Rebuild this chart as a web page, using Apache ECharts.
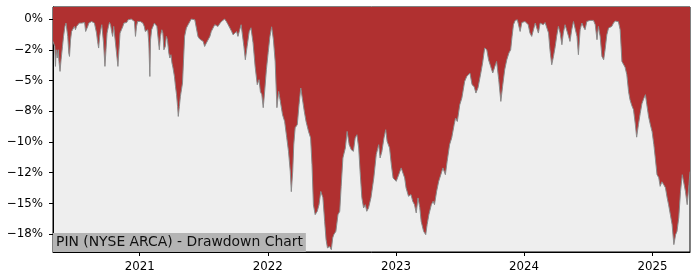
<!DOCTYPE html>
<html>
<head>
<meta charset="utf-8">
<script src="https://cdn.jsdelivr.net/npm/echarts@6.0.0/dist/echarts.min.js"></script>
<style>
html,body{margin:0;padding:0;background:#fff;}
#chart{width:700px;height:280px;}
</style>
</head>
<body>
<div id="chart"></div>
<script>
const titleText = 'PIN (NYSE ARCA) - Drawdown Chart';
const yearTicks = ['2021-01-01','2022-01-01','2023-01-01','2024-01-01','2025-01-01'];
const yTickVals = [0, -2.5, -5, -7.5, -10, -12.5, -15, -17.5];
const yTickLabels = ['0%','\u22122%','\u22125%','\u22128%','\u221210%','\u221212%','\u221215%','\u221218%'];

const dates = [
'2020-04-29','2020-05-04','2020-05-06','2020-05-08','2020-05-11','2020-05-14','2020-05-16','2020-05-19','2020-05-22','2020-05-26',
'2020-05-29','2020-06-02','2020-06-05','2020-06-08','2020-06-10','2020-06-13','2020-06-15','2020-06-18','2020-06-21','2020-06-25',
'2020-06-29','2020-07-02','2020-07-05','2020-07-09','2020-07-13','2020-07-17','2020-07-20','2020-07-24','2020-07-28','2020-07-31',
'2020-08-03','2020-08-06','2020-08-09','2020-08-13','2020-08-17','2020-08-21','2020-08-25','2020-08-28','2020-08-31','2020-09-03',
'2020-09-06','2020-09-09','2020-09-12','2020-09-15','2020-09-17','2020-09-20','2020-09-24','2020-09-27','2020-09-30','2020-10-04',
'2020-10-07','2020-10-10','2020-10-13','2020-10-16','2020-10-19','2020-10-23','2020-10-27','2020-10-31','2020-11-03','2020-11-06',
'2020-11-10','2020-11-14','2020-11-17','2020-11-21','2020-11-25','2020-11-29','2020-12-03','2020-12-08','2020-12-13','2020-12-17',
'2020-12-20','2020-12-23','2020-12-26','2020-12-30',
'2021-01-03','2021-01-07','2021-01-10','2021-01-14','2021-01-17','2021-01-20','2021-01-24','2021-01-27','2021-01-30','2021-02-01',
'2021-02-04','2021-02-08','2021-02-12','2021-02-16','2021-02-19','2021-02-23','2021-02-26','2021-03-01','2021-03-05','2021-03-08',
'2021-03-11','2021-03-15','2021-03-18','2021-03-21','2021-03-25','2021-03-28','2021-03-31','2021-04-03','2021-04-06','2021-04-10',
'2021-04-13','2021-04-16','2021-04-19','2021-04-21','2021-04-24','2021-04-27','2021-04-30','2021-05-03','2021-05-06','2021-05-09',
'2021-05-14','2021-05-19','2021-05-24','2021-05-28','2021-06-02','2021-06-07','2021-06-12','2021-06-16','2021-06-21','2021-06-26',
'2021-07-01','2021-07-05','2021-07-10','2021-07-15','2021-07-20','2021-07-24','2021-07-29','2021-08-03','2021-08-08','2021-08-12',
'2021-08-17','2021-08-22','2021-08-27','2021-08-31','2021-09-05','2021-09-10','2021-09-15','2021-09-20','2021-09-24','2021-09-29',
'2021-10-04','2021-10-08','2021-10-13','2021-10-17','2021-10-19','2021-10-25','2021-10-29','2021-11-03','2021-11-09','2021-11-14',
'2021-11-20','2021-11-26','2021-12-02','2021-12-07','2021-12-11','2021-12-15','2021-12-19','2021-12-23','2021-12-28',
'2022-01-02','2022-01-07','2022-01-12','2022-01-14','2022-01-17','2022-01-22','2022-01-27','2022-02-01','2022-02-05','2022-02-12',
'2022-02-18','2022-02-24','2022-03-01','2022-03-06','2022-03-09','2022-03-13','2022-03-16','2022-03-20','2022-03-26','2022-03-31',
'2022-04-05','2022-04-10','2022-04-15','2022-04-20','2022-04-27','2022-05-03','2022-05-07','2022-05-11','2022-05-16','2022-05-22',
'2022-05-27','2022-06-01','2022-06-07','2022-06-12','2022-06-16','2022-06-20','2022-06-26','2022-07-01','2022-07-05','2022-07-08',
'2022-07-14','2022-07-20','2022-07-25','2022-07-29','2022-08-03','2022-08-10','2022-08-15','2022-08-21','2022-08-27','2022-09-02',
'2022-09-07','2022-09-12','2022-09-17','2022-09-21','2022-09-26','2022-10-01','2022-10-06','2022-10-10','2022-10-15','2022-10-22',
'2022-10-30','2022-11-06','2022-11-13','2022-11-17','2022-11-22','2022-11-28','2022-12-03','2022-12-07','2022-12-14','2022-12-19',
'2022-12-24',
'2023-01-02','2023-01-09','2023-01-16','2023-01-21','2023-01-26','2023-01-30','2023-02-06','2023-02-13','2023-02-18','2023-02-23',
'2023-02-28','2023-03-05','2023-03-10','2023-03-14','2023-03-21','2023-03-27','2023-03-31','2023-04-05','2023-04-12','2023-04-17',
'2023-04-21','2023-04-27','2023-05-03','2023-05-09','2023-05-15','2023-05-22','2023-05-27','2023-06-03','2023-06-09','2023-06-16',
'2023-06-20','2023-06-25','2023-07-02','2023-07-08','2023-07-16','2023-07-22','2023-07-27','2023-07-31','2023-08-06','2023-08-12',
'2023-08-17','2023-08-23','2023-08-31','2023-09-05','2023-09-11','2023-09-17','2023-09-22','2023-09-28','2023-10-04','2023-10-10',
'2023-10-15','2023-10-21','2023-10-27','2023-11-01','2023-11-07','2023-11-13','2023-11-19','2023-11-24','2023-11-28','2023-12-02',
'2023-12-07','2023-12-13','2023-12-18','2023-12-21','2023-12-26','2023-12-30',
'2024-01-04','2024-01-09','2024-01-13','2024-01-18','2024-01-23','2024-01-28','2024-02-02','2024-02-06','2024-02-11','2024-02-16',
'2024-02-21','2024-02-25','2024-03-01','2024-03-06','2024-03-11','2024-03-15','2024-03-20','2024-03-25','2024-03-30','2024-04-03',
'2024-04-08','2024-04-13','2024-04-18','2024-04-22','2024-04-27','2024-05-02','2024-05-07','2024-05-11','2024-05-16','2024-05-21',
'2024-05-26','2024-05-31','2024-06-04','2024-06-09','2024-06-14','2024-06-18','2024-06-23','2024-06-28','2024-07-03','2024-07-07',
'2024-07-12','2024-07-17','2024-07-22','2024-07-27','2024-07-31','2024-08-05','2024-08-10','2024-08-15','2024-08-19','2024-08-24',
'2024-08-29','2024-09-03','2024-09-07','2024-09-12','2024-09-17','2024-09-22','2024-09-26','2024-10-01','2024-10-06','2024-10-11',
'2024-10-15','2024-10-20','2024-10-25','2024-10-29','2024-11-03','2024-11-08','2024-11-13','2024-11-17','2024-11-22','2024-11-27',
'2024-12-02','2024-12-07','2024-12-12','2024-12-16','2024-12-21','2024-12-26','2024-12-31',
'2025-01-05','2025-01-09','2025-01-14','2025-01-19','2025-01-23','2025-01-28','2025-02-02','2025-02-07','2025-02-12','2025-02-16',
'2025-02-21','2025-02-26','2025-03-03','2025-03-08','2025-03-12','2025-03-17','2025-03-22','2025-03-27','2025-04-01','2025-04-05',
'2025-04-10','2025-04-15','2025-04-18'
];

const drawdown = [
-1.82,-2.23,-3.85,-2.50,-3.17,-2.50,-3.45,-4.26,-3.31,-2.23,
-1.41,-0.60,-0.33,-0.28,-1.41,-2.76,-3.04,-1.68,-1.01,-0.87,
-0.60,-0.87,-0.60,-0.73,-0.33,-0.20,-0.33,-0.46,-0.28,-1.01,
-1.14,-0.60,-0.33,-0.28,-0.20,-0.11,-0.33,-0.20,-1.14,-1.82,
-2.36,-1.41,-0.87,-0.46,-0.60,-1.95,-3.85,-2.50,-1.14,-0.60,
-0.28,-0.46,-1.01,-1.41,-0.60,-1.68,-2.76,-3.85,-2.50,-1.14,
-0.87,-0.60,-0.33,-0.22,-0.28,-0.06,0,0,-0.06,-0.20,
-1.41,-0.60,-0.20,-0.11,
-0.20,-0.28,-0.33,-0.60,-1.01,-0.87,-0.87,-1.95,-4.67,-1.68,
-0.87,-0.60,-0.33,-0.28,-0.60,-1.68,-2.50,-1.41,-0.87,-1.14,
-2.50,-2.23,-1.41,-1.68,-2.76,-3.17,-2.90,-3.58,-3.98,-4.67,
-5.48,-6.15,-7.11,-7.92,-7.11,-6.29,-5.75,-5.20,-3.31,-1.41,
-0.73,-0.46,-0.20,0,0,-0.06,-0.20,-1.41,-1.63,-1.68,
-1.82,-2.23,-1.95,-1.82,-1.41,-1.01,-0.73,-0.46,-0.38,-0.60,
-0.38,-0.20,-0.06,0,-0.20,-0.46,-0.73,-1.01,-1.28,-1.14,
-1.01,-1.41,-0.87,-0.46,-0.46,-2.25,-3.31,-2.25,-1.03,-0.71,
-1.93,-3.88,-5.34,-4.93,-5.91,-6.15,-7.21,-5.91,-4.12,
-2.74,-1.44,-0.63,-0.71,-1.68,-3.45,-7.21,-5.89,-6.56,-7.78,
-8.33,-9.65,-10.76,-12.39,-14.04,-12.39,-10.22,-8.84,-8.59,-6.97,
-5.61,-5.75,-7.51,-8.33,-9.14,-9.67,-11.85,-15.10,-15.91,-15.64,
-15.10,-14.02,-14.53,-16.46,-17.94,-18.62,-18.49,-18.76,-17.80,-17.54,
-17.27,-15.91,-15.64,-13.63,-11.30,-10.49,-9.14,-10.22,-10.63,-10.76,
-9.67,-9.41,-10.49,-12.39,-14.53,-15.37,-15.10,-15.64,-15.37,-14.53,
-12.93,-11.03,-10.22,-11.30,-10.79,-9.67,-9.00,-9.95,-10.49,-11.85,
-12.93,
-13.20,-12.66,-12.11,-11.98,-12.93,-13.74,-14.42,-14.28,-14.83,-15.10,
-15.77,-14.55,-15.34,-16.46,-17.27,-17.54,-16.72,-15.91,-15.10,-14.83,
-15.10,-14.02,-13.20,-12.66,-12.11,-12.66,-11.58,-10.22,-9.67,-8.59,
-8.05,-8.33,-6.97,-6.42,-5.07,-4.67,-4.53,-4.39,-5.34,-5.50,
-6.02,-5.59,-4.39,-3.58,-2.36,-2.50,-3.31,-3.85,-4.39,-3.85,
-3.45,-4.93,-6.70,-5.48,-4.12,-3.31,-2.76,-2.50,-1.41,-0.46,
-0.11,-0.06,-0.11,-1.01,-0.28,-0.33,
-0.20,-0.33,-0.46,-1.14,-1.41,-0.87,-0.33,-0.20,-1.14,-0.33,
-0.28,-0.46,-0.28,-0.20,-1.14,-2.50,-3.72,-3.04,-2.23,-1.41,
-0.60,-1.14,-2.09,-1.14,-0.46,-0.38,-1.41,-1.82,-0.87,-0.20,
-0.33,-1.41,-2.90,-0.87,-0.33,-0.60,-0.87,-0.20,-0.14,-0.11,
-0.20,-0.11,-0.46,-1.68,-0.60,-1.41,-3.04,-3.31,-2.50,-1.28,
-0.73,-0.87,-0.60,-0.33,-0.16,-0.11,-0.22,-0.87,-3.45,-3.58,
-3.92,-4.53,-5.91,-6.56,-7.03,-7.37,-8.51,-9.61,-8.59,-7.70,
-6.89,-6.48,-6.15,-6.97,-7.94,-8.59,-9.16,
-10.22,-11.28,-12.66,-12.90,-13.61,-13.24,-13.47,-13.72,-14.55,-15.10,
-15.91,-16.72,-18.35,-17.54,-17.27,-16.15,-14.02,-12.66,-12.74,-14.02,
-15.10,-13.47,-12.41
];

const chart = echarts.init(document.getElementById('chart'), null, {renderer: 'canvas'});
const toTime = s => echarts.time.parse(s).getTime();
const seriesData = dates.map((d, i) => [toTime(d), drawdown[i]]);
const yearTickTimes = yearTicks.map(toTime);
const font = 'DejaVu Sans';

chart.setOption({
  animation: false,
  backgroundColor: '#ffffff',
  grid: {
    left: 53, right: 10, top: 7, bottom: 28,
    show: true,
    backgroundColor: '#eeeeee',
    borderColor: '#000000',
    borderWidth: 1
  },
  xAxis: {
    type: 'value',
    min: 'dataMin',
    max: 'dataMax',
    axisLine: {show: true, onZero: false, lineStyle: {color: '#000', width: 1}},
    axisTick: {show: true, length: 4, lineStyle: {color: '#000'}, customValues: yearTickTimes},
    axisLabel: {
      show: true, customValues: yearTickTimes, margin: 9,
      color: '#000', fontFamily: font, fontSize: 11.8,
      formatter: v => String(new Date(v).getFullYear())
    },
    splitLine: {show: false}
  },
  yAxis: {
    type: 'value',
    min: -18.95,
    max: 0.98,
    axisLine: {show: true, onZero: false, lineStyle: {color: '#000', width: 1}},
    axisTick: {show: true, length: 4, lineStyle: {color: '#000'}, customValues: yTickVals},
    axisLabel: {
      show: true, customValues: yTickVals, margin: 10,
      color: '#000', fontFamily: font, fontSize: 11.8,
      formatter: v => {
        const i = yTickVals.findIndex(t => Math.abs(t - v) < 1e-9);
        return i >= 0 ? yTickLabels[i] : '';
      }
    },
    splitLine: {show: false}
  },
  series: [{
    type: 'line',
    data: seriesData,
    showSymbol: false,
    symbol: 'none',
    lineStyle: {color: '#8a8a8a', width: 1},
    areaStyle: {color: 'rgb(176,48,48)', opacity: 1, origin: 'end'},
    clip: true
  }],
  graphic: [{
    type: 'text',
    left: 53,
    top: 233,
    z: 100,
    style: {
      text: titleText,
      fill: '#111',
      font: '13.9px "DejaVu Sans"',
      backgroundColor: '#b4b4b4',
      padding: [2, 3, 2, 3],
      lineHeight: 15
    }
  }]
});
</script>
</body>
</html>
